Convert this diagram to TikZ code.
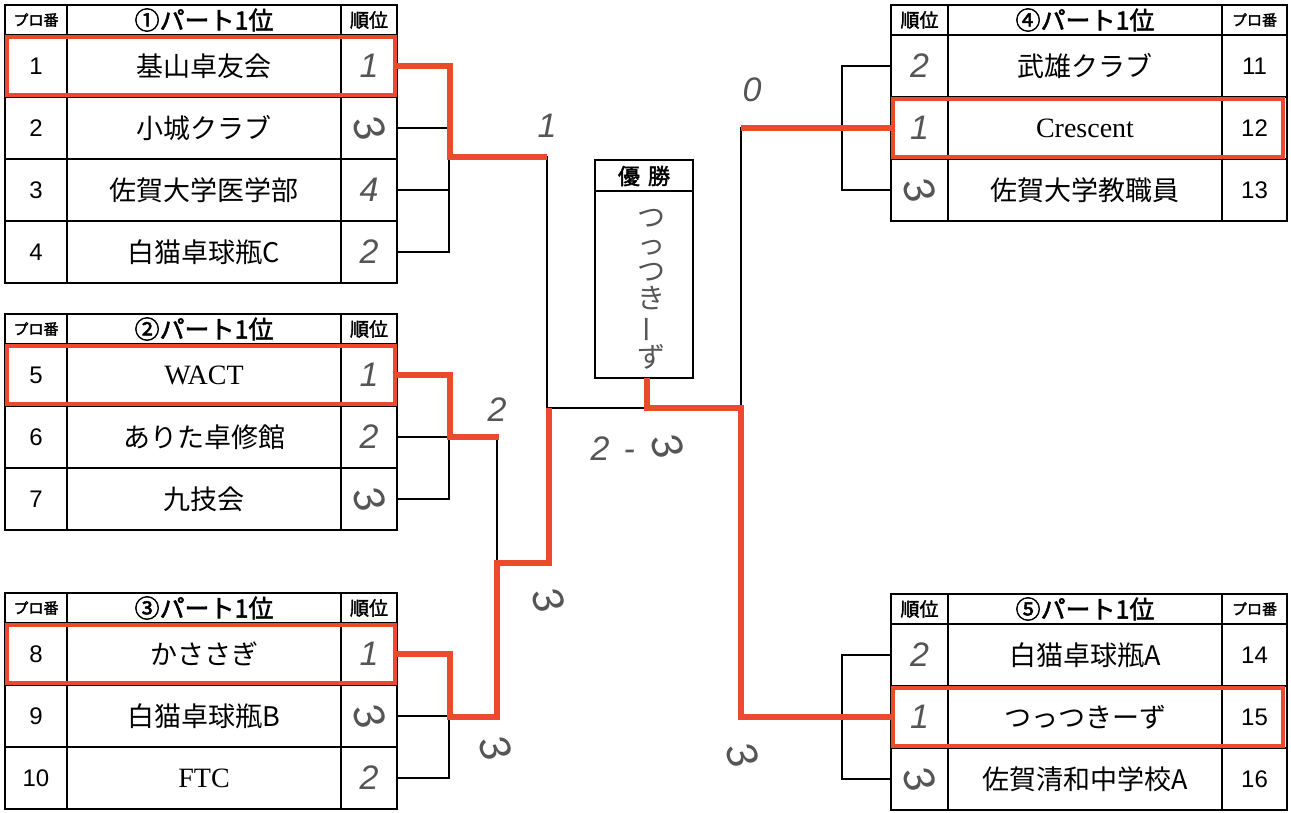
\documentclass[tikz,border=0pt]{standalone}
\usepackage{fontspec}
\setmainfont{Liberation Serif}
\newfontfamily\cjk{Noto Sans CJK JP}
\newfontfamily\cjkb[FakeBold=2]{Noto Sans CJK JP}
\newfontfamily\numf{Liberation Sans}
\newcommand\lat{\rmfamily\fontsize{28}{28}\selectfont}
\newcommand\hthree{\scalebox{1.25}{\rotatebox[origin=c]{-70}{3}}}
\definecolor{redmark}{HTML}{EC4A2C}
\definecolor{pencil}{HTML}{555555}
\tikzset{
  every node/.style={inner sep=0pt, outer sep=0pt},
  gridline/.style={line width=1.7pt},
  bracket/.style={line width=1.5pt},
  redpath/.style={draw=redmark, line width=5.5pt, line join=miter},
  redbox/.style={draw=redmark, line width=4pt},
  smallhdr/.style={font=\cjkb\fontsize{15}{15}\selectfont},
  mainhdr/.style={font=\cjkb\fontsize{25}{25}\selectfont},
  rankhdr/.style={font=\cjkb\fontsize{19}{19}\selectfont},
  numtxt/.style={font=\numf\fontsize{24}{24}\selectfont},
  nametxt/.style={font=\cjk\fontsize{27}{27}\selectfont},
  handtxt/.style={font=\numf\itshape\fontsize{34}{34}\selectfont, text=pencil},
}
% left table: #1 id, #2 top, #3 header, #4 rows, #5 number of rows
\newcommand\LTable[5]{%
  \begin{scope}[shift={(0,#2)}]
    \node[smallhdr] (#1-hp) at (36,15) {プロ番};
    \node[mainhdr] (#1-hm) at (204,15) {#3};
    \node[rankhdr] (#1-hr) at (369,15) {順位};
    \foreach \nn/\nm/\rk [count=\c] in {#4} {
      \node[numtxt] (#1-n\c) at (36,{62*\c-1}) {\nn};
      \node[nametxt] (#1-t\c) at (204,{62*\c-1}) {\nm};
      \node[handtxt] (#1-r\c) at (369,{62*\c-1}) {\rk};
      \coordinate (#1-e\c) at (397,{62*\c-1});
      \draw[gridline] (5,{30+62*\c}) -- (397,{30+62*\c});
    }
    \draw[gridline] (5,0) rectangle (397,{30+62*#5});
    \draw[gridline] (5,30) -- (397,30);
    \draw[gridline] (67,0) -- (67,{30+62*#5});
    \draw[gridline] (341,0) -- (341,{30+62*#5});
  \end{scope}}
% right table
\newcommand\RTable[5]{%
  \begin{scope}[shift={(0,#2)}]
    \node[rankhdr] (#1-hr) at (919.5,15) {順位};
    \node[mainhdr] (#1-hm) at (1085,15) {#3};
    \node[smallhdr] (#1-hp) at (1254.5,15) {プロ番};
    \foreach \nn/\nm/\rk [count=\c] in {#4} {
      \node[handtxt] (#1-r\c) at (919.5,{62*\c-1}) {\rk};
      \node[nametxt] (#1-t\c) at (1085,{62*\c-1}) {\nm};
      \node[numtxt] (#1-n\c) at (1254.5,{62*\c-1}) {\nn};
      \coordinate (#1-e\c) at (891,{62*\c-1});
      \draw[gridline] (891,{30+62*\c}) -- (1287,{30+62*\c});
    }
    \draw[gridline] (891,0) rectangle (1287,{30+62*#5});
    \draw[gridline] (891,30) -- (1287,30);
    \draw[gridline] (948,0) -- (948,{30+62*#5});
    \draw[gridline] (1222,0) -- (1222,{30+62*#5});
  \end{scope}}
\begin{document}
\begin{tikzpicture}[x=1pt,y=-1pt]
\fill[white] (0,0) rectangle (1291,812);
\useasboundingbox (0,0) rectangle (1291,812);

\LTable{t1}{5}{①パート1位}{1/基山卓友会/1, 2/小城クラブ/\hthree, 3/佐賀大学医学部/4, 4/白猫卓球瓶C/2}{4}
\LTable{t2}{314}{②パート1位}{5/{\lat WACT}/1, 6/ありた卓修館/2, 7/九技会/\hthree}{3}
\LTable{t3}{593}{③パート1位}{8/かささぎ/1, 9/白猫卓球瓶B/\hthree, 10/{\lat FTC}/2}{3}
\RTable{t4}{5}{④パート1位}{11/武雄クラブ/2, 12/{\lat Crescent}/1, 13/佐賀大学教職員/\hthree}{3}
\RTable{t5}{594}{⑤パート1位}{14/白猫卓球瓶A/2, 15/つっつきーず/1, 16/佐賀清和中学校A/\hthree}{3}

% winner box
\node[draw, line width=1.7pt, minimum width=98pt, minimum height=218pt] (win) at (644,269) {};
\draw[gridline] (win.north west) ++(0,31) -- ++(98,0);
\node[font=\cjkb\fontsize{22}{22}\selectfont] (winhdr) at (644,176) {優\hspace{8pt}勝};
\node[font=\cjk\fontsize{28}{27}\selectfont, text=pencil, align=center] (champ) at (651,289)
  {つ\\っ\\つ\\き\\\rotatebox[origin=c]{90}{ー}\\ず};

% black bracket lines
\draw[bracket] (t1-e1) -- (449,66) -- (449,252) -- (t1-e4);
\draw[bracket] (t1-e2) -- (449,128);
\draw[bracket] (t1-e3) -- (449,190);
\draw[bracket] (t2-e1) -- (449,375) -- (449,499) -- (t2-e3);
\draw[bracket] (t2-e2) -- (449,437);
\draw[bracket] (t3-e1) -- (449,654) -- (449,778) -- (t3-e3);
\draw[bracket] (t3-e2) -- (449,716);
\draw[bracket] (449,437) -- (497,437) -- (497,716) -- (449,716);
\draw[bracket] (497,563) -- (547,563);
\draw[bracket] (449,157) -- (547,157) -- (547,563);
\draw[bracket] (547,408) -- (741,408);
\draw[bracket] (t4-e1) -- (842,66) -- (842,190) -- (t4-e3);
\draw[bracket] (t4-e2) -- (741,128) -- (741,717) -- (t5-e2);
\draw[bracket] (t5-e1) -- (842,655) -- (842,779) -- (t5-e3);

% red winning paths
\draw[redpath] (t1-e1) -- (450,66) -- (450,157) -- (547,157);
\draw[redpath] (t2-e1) -- (450,375) -- (450,437) -- (499,437);
\draw[redpath] (t3-e1) -- (450,654) -- (450,717) -- (497,717) -- (497,563) -- (549,563) -- (549,408);
\draw[redpath] (t4-e2) -- (741,128);
\draw[redpath] (t5-e2) -- (741,717) -- (741,408) -- (647,408) -- (647,378);

% red boxes around group winners
\draw[redbox] (7,37) rectangle (395,95);
\draw[redbox] (7,346) rectangle (395,404);
\draw[redbox] (7,625) rectangle (395,683);
\draw[redbox] (893,99) rectangle (1283,157);
\draw[redbox] (893,688) rectangle (1283,746);

% handwritten scores
\node[handtxt] (s1) at (547,126) {1};
\node[handtxt] (s2) at (752,90) {0};
\node[handtxt] (s3) at (497,410) {2};
\node[handtxt] (s4) at (548,600) {\hthree};
\node[handtxt] (s5) at (495,748) {\hthree};
\node[handtxt] (s6) at (638,446) {2\hspace{14pt}-\hspace{14pt}\hthree};
\node[handtxt] (s7) at (742,755) {\hthree};
\end{tikzpicture}
\end{document}
